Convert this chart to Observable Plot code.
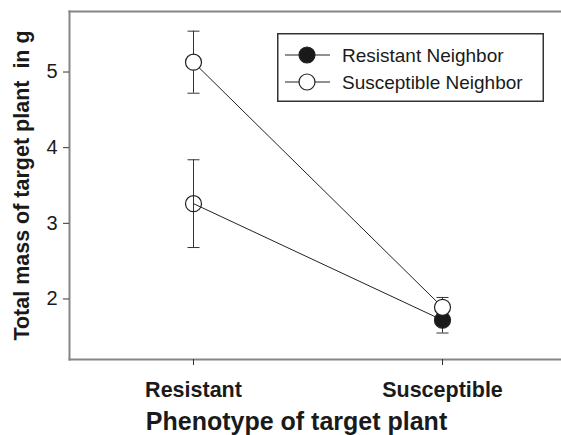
<!DOCTYPE html>
<html>
<head>
<meta charset="utf-8">
<script src="https://cdn.jsdelivr.net/npm/d3@7"></script>
<script src="https://cdn.jsdelivr.net/npm/@observablehq/plot@0.6"></script>
<style>
  html, body { margin: 0; padding: 0; background: #fff; }
  #wrap { position: relative; width: 561px; height: 435px; font-family: "Liberation Sans", Arial, sans-serif; }
  #legend { position: absolute; left: 277px; top: 33px; }
</style>
</head>
<body>
<div id="wrap"></div>
<script>
// ---- data ----
const phenotypes = ["Resistant", "Susceptible"];
const seriesNames = ["Resistant Neighbor", "Susceptible Neighbor"];
const resistantNeighborMean = [3.26, 1.72];
const resistantNeighborErr  = [0.58, 0.17];
const susceptibleNeighborMean = [5.13, 1.89];
const susceptibleNeighborErr  = [0.41, 0.13];
const yTicks = [2, 3, 4, 5];
const xTitle = "Phenotype of target plant";
const yTitle = "Total mass of target plant\u00A0 in g";

const rows = [];
[[resistantNeighborMean, resistantNeighborErr], [susceptibleNeighborMean, susceptibleNeighborErr]]
  .forEach(([means, errs], s) => {
    phenotypes.forEach((p, i) => {
      rows.push({series: seriesNames[s], phenotype: p, mean: means[i], lo: means[i] - errs[i], hi: means[i] + errs[i]});
    });
  });

const ink = "#1a1a1a";
const axisGray = "#858585";

function dotFill(d) {
  if (d.series === seriesNames[0]) return d.phenotype === phenotypes[0] ? "none" : ink;
  return "white";
}

// horizontal cap symbol for error bars (half-width = r)
const capSymbol = {
  draw(context, size) {
    const w = Math.sqrt(size / Math.PI);
    context.moveTo(-w, 0);
    context.lineTo(w, 0);
  }
};

const chart = Plot.plot({
  width: 561,
  height: 435,
  marginLeft: 69,
  marginTop: 11,
  marginBottom: 76,
  marginRight: 0,
  style: {fontFamily: "'Liberation Sans', Arial, sans-serif", color: ink, background: "white"},
  x: {type: "point", domain: phenotypes, range: [193, 442], padding: 0},
  y: {domain: [1.2, 5.8]},
  marks: [
    Plot.frame({anchor: "top", stroke: axisGray, strokeWidth: 2}),
    Plot.frame({anchor: "bottom", stroke: axisGray, strokeWidth: 2}),
    Plot.frame({anchor: "left", stroke: axisGray, strokeWidth: 2}),
    Plot.axisY({ticks: yTicks, tickFormat: d3.format("d"), tickSize: 6, tickPadding: 6, fontSize: 20, label: null, stroke: "#333"}),
    Plot.axisX({tickSize: 6, tickPadding: 16, fontSize: 21.5, fontWeight: "bold", label: null, stroke: "#333"}),
    Plot.text([yTitle], {frameAnchor: "left", textAnchor: "middle", lineAnchor: "middle", rotate: -90, dx: -47, fontSize: 21.5, fontWeight: "bold", fill: ink}),
    Plot.text([xTitle], {frameAnchor: "bottom", textAnchor: "middle", lineAnchor: "middle", dx: -19, dy: 62, fontSize: 25, fontWeight: "bold", fill: ink}),
    Plot.ruleX(rows, {x: "phenotype", y1: "lo", y2: "hi", stroke: "#333", strokeWidth: 1}),
    Plot.dot(rows, {x: "phenotype", y: "lo", r: 6, symbol: capSymbol, fill: "none", stroke: "#333", strokeWidth: 1}),
    Plot.dot(rows, {x: "phenotype", y: "hi", r: 6, symbol: capSymbol, fill: "none", stroke: "#333", strokeWidth: 1}),
    Plot.line(rows, {x: "phenotype", y: "mean", z: "series", stroke: "#222", strokeWidth: 1}),
    Plot.dot(rows, {x: "phenotype", y: "mean", r: 8, fill: dotFill, stroke: "#222", strokeWidth: 1.2})
  ]
});

const wrap = document.getElementById("wrap");
wrap.appendChild(chart);

// ---- legend ----
const ns = "http://www.w3.org/2000/svg";
const lg = document.createElementNS(ns, "svg");
lg.setAttribute("id", "legend");
lg.setAttribute("width", 267);
lg.setAttribute("height", 69);
const box = document.createElementNS(ns, "rect");
box.setAttribute("x", 0.75); box.setAttribute("y", 0.75);
box.setAttribute("width", 265.5); box.setAttribute("height", 67.5);
box.setAttribute("fill", "white"); box.setAttribute("stroke", "#333"); box.setAttribute("stroke-width", 1.5);
lg.appendChild(box);
seriesNames.forEach((name, i) => {
  const cy = 22 + i * 27;
  const ln = document.createElementNS(ns, "line");
  ln.setAttribute("x1", 8); ln.setAttribute("x2", 53);
  ln.setAttribute("y1", cy); ln.setAttribute("y2", cy);
  ln.setAttribute("stroke", "#222"); ln.setAttribute("stroke-width", 1);
  lg.appendChild(ln);
  const c = document.createElementNS(ns, "circle");
  c.setAttribute("cx", 30); c.setAttribute("cy", cy); c.setAttribute("r", 8);
  c.setAttribute("fill", i === 0 ? ink : "white"); c.setAttribute("stroke", "#222"); c.setAttribute("stroke-width", 1.2);
  lg.appendChild(c);
  const t = document.createElementNS(ns, "text");
  t.setAttribute("x", 65); t.setAttribute("y", cy);
  t.setAttribute("dy", "0.35em");
  t.setAttribute("font-size", 19);
  t.setAttribute("font-family", "'Liberation Sans', Arial, sans-serif");
  t.setAttribute("fill", ink);
  t.textContent = name;
  lg.appendChild(t);
});
wrap.appendChild(lg);
</script>
</body>
</html>
